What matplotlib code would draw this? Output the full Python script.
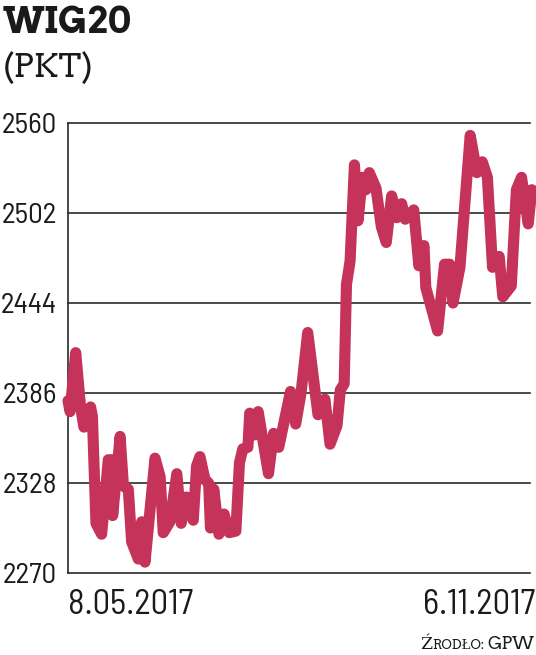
#!/usr/bin/env python3
"""WIG20 index, 8.05.2017 - 6.11.2017, newspaper-style line chart."""

import matplotlib

matplotlib.use("Agg")
import matplotlib.pyplot as plt

# days since 8.05.2017 (traced turning points of the index)
day_offset = [
    0, 0.8, 3.0, 4.9, 6.2, 7.3, 8.8, 9.5, 10.9, 13.1, 14.4, 15.7, 17.0, 17.4,
    20.3, 21.6, 23.5, 24.8, 27.4, 28.7, 30.0, 33.9, 35.9, 37.1, 39.7, 42.4,
    44.1, 46.1, 48.8, 50.1, 51.4, 53.4, 54.8, 55.5, 56.8, 58.8, 60.8, 62.8,
    65.4, 66.8, 68.1, 70.1, 70.8, 72.8, 74.1, 78.1, 80.1, 82.1, 86.7, 88.7,
    90.8, 93.4, 97.4, 100.1, 102.1, 104.8, 106.1, 107.6, 108.5, 109.9, 111.6,
    113.0, 114.7, 116.1, 117.4, 120.0, 122.1, 124.0, 126.1, 128.1, 130.0,
    131.4, 134.7, 136.7, 138.7, 139.4, 144.0, 146.7, 148.7, 150.0, 152.7,
    156.7, 159.3, 161.4, 163.4, 165.4, 168.0, 169.4, 172.7, 174.7, 176.7,
    179.3, 180.7, 182.0,
]
wig20 = [
    2381, 2374, 2412, 2377, 2364, 2371, 2377, 2371, 2302, 2295, 2319, 2343,
    2343, 2307, 2358, 2326, 2324, 2290, 2279, 2303, 2277, 2344, 2332, 2296,
    2303, 2334, 2302, 2319, 2304, 2339, 2345, 2330, 2328, 2299, 2324, 2295,
    2308, 2296, 2297, 2341, 2350, 2351, 2373, 2359, 2374, 2334, 2360, 2351,
    2387, 2366, 2386, 2425, 2372, 2382, 2353, 2365, 2388, 2392, 2456, 2471,
    2533, 2497, 2525, 2517, 2528, 2518, 2493, 2483, 2513, 2499, 2508, 2498,
    2504, 2468, 2481, 2454, 2426, 2469, 2469, 2444, 2467, 2552, 2528, 2535,
    2525, 2467, 2474, 2448, 2455, 2517, 2525, 2495, 2517, 2513,
]
y_ticks = [2270, 2328, 2386, 2444, 2502, 2560]
date_labels = ["8.05.2017", "6.11.2017"]

LINE_COLOR = "#c5325a"
GRID_COLOR = "#2b2b2b"
TEXT_COLOR = "#1a1a1a"
NARROW = ["Barlow Semi Condensed", "Barlow Condensed", "DejaVu Sans"]
SLAB = ["Arvo", "DejaVu Serif"]

W, H = 536, 655
fig = plt.figure(figsize=(W / 100, H / 100), dpi=100)
fig.patch.set_facecolor("white")
ax = fig.add_axes([68 / W, 82 / H, 462 / W, 450 / H])
ax.set_facecolor("white")

ax.set_xlim(0, 180)
ax.set_ylim(y_ticks[0], y_ticks[-1])

for v in y_ticks[1:]:
    ax.axhline(v, color=GRID_COLOR, lw=1.2, zorder=1, clip_on=False)

ax.plot(day_offset, wig20, color=LINE_COLOR, lw=8,
        solid_joinstyle="round", solid_capstyle="round", zorder=3,
        clip_on=False)

for side in ("top", "right"):
    ax.spines[side].set_visible(False)
for side in ("left", "bottom"):
    ax.spines[side].set_color(GRID_COLOR)
    ax.spines[side].set_linewidth(1.2)

ax.set_xticks([])
ax.set_yticks(y_ticks)
ax.set_yticklabels([str(v) for v in y_ticks], family=NARROW, fontsize=21,
                   color=TEXT_COLOR)
ax.tick_params(axis="y", length=0, pad=8)

xt = ax.get_xaxis_transform()
ax.text(day_offset[0], -0.035, date_labels[0], transform=xt, ha="left",
        va="top", family=NARROW, fontsize=25, color=TEXT_COLOR)
ax.text(day_offset[-1], -0.035, date_labels[1], transform=xt, ha="right",
        va="top", family=NARROW, fontsize=25, color=TEXT_COLOR, clip_on=False)

fig.text(3 / W, 1 - 33 / H, "WIG20", family=SLAB, fontweight="bold",
         fontsize=26, color=TEXT_COLOR, va="baseline", ha="left")
fig.text(3 / W, 1 - 78 / H, "(PKT)", family=SLAB, fontsize=23.5,
         color=TEXT_COLOR, va="baseline", ha="left")

# source line in small caps, built right to left
renderer = fig.canvas.get_renderer()
x_right = 534
base_y = 1 - 649 / H
for piece, size in reversed([("Ź", 12.5), ("RODŁO: ", 9.5), ("GPW", 12.5)]):
    t = fig.text(x_right / W, base_y, piece, family=SLAB, fontsize=size,
                 color=TEXT_COLOR, va="baseline", ha="right")
    x_right -= t.get_window_extent(renderer).width

fig.savefig("out.png", dpi=100, facecolor=fig.get_facecolor())
